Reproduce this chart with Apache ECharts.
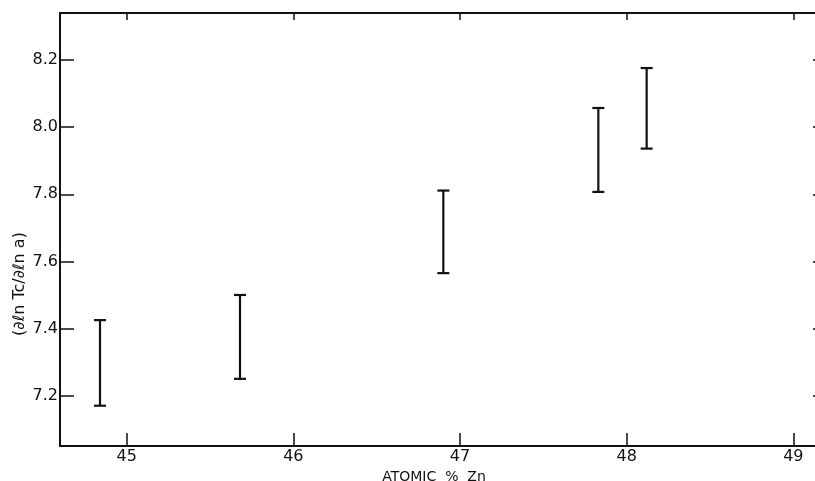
<!DOCTYPE html>
<html>
<head>
<meta charset="utf-8">
<script src="https://cdn.jsdelivr.net/npm/echarts@6/dist/echarts.min.js"></script>
<style>
html, body { margin: 0; padding: 0; background: #fff; }
#main { width: 815px; height: 481px; }
</style>
</head>
<body>
<div id="main"></div>
<script>
// 数据：原子百分比 Zn 与误差棒上下限
var zn = [44.84, 45.68, 46.90, 47.83, 48.12];
var low = [7.17, 7.25, 7.565, 7.807, 7.936];
var high = [7.425, 7.50, 7.811, 8.057, 8.176];

// 刻度
var xTicks = [45, 46, 47, 48, 49];
var yTicks = [7.2, 7.4, 7.6, 7.8, 8.0, 8.2];

var ink = '#111';
var labelFont = 'DejaVu Sans';

var points = [];
for (var i = 0; i < zn.length; i++) {
    points.push([zn[i], low[i], high[i]]);
}

// 画误差棒：竖线 + 上下横帽
function renderBar(params, api) {
    var x = api.value(0);
    var lo = api.coord([x, api.value(1)]);
    var hi = api.coord([x, api.value(2)]);
    var hw = 6;
    var st = { stroke: ink, lineWidth: 2.2 };
    return {
        type: 'group',
        children: [
            { type: 'line', shape: { x1: lo[0], y1: lo[1], x2: hi[0], y2: hi[1] }, style: st },
            { type: 'line', shape: { x1: lo[0] - hw, y1: lo[1], x2: lo[0] + hw, y2: lo[1] }, style: st },
            { type: 'line', shape: { x1: hi[0] - hw, y1: hi[1], x2: hi[0] + hw, y2: hi[1] }, style: st }
        ]
    };
}

var chart = echarts.init(document.getElementById('main'));

var option = {
    animation: false,
    backgroundColor: '#fff',
    // 右边框在画面之外，只露出刻度
    grid: { left: 60, top: 13, width: 760, height: 433, outerBoundsMode: 'none' },
    xAxis: [{
        type: 'value',
        min: 44.6,
        max: 49.16,
        position: 'bottom',
        name: 'ATOMIC  %  Zn',
        nameLocation: 'middle',
        nameGap: 17,
        nameTextStyle: { color: ink, fontFamily: labelFont, fontSize: 14, padding: [0, 0, 0, -12] },
        splitLine: { show: false },
        axisLine: { lineStyle: { color: ink, width: 2 } },
        axisTick: { inside: true, length: 13, customValues: xTicks, lineStyle: { color: ink, width: 1.5 } },
        axisLabel: { customValues: xTicks, color: ink, fontFamily: labelFont, fontSize: 16, margin: 3 }
    }, {
        type: 'value',
        min: 44.6,
        max: 49.16,
        position: 'top',
        splitLine: { show: false },
        axisLine: { lineStyle: { color: ink, width: 2 } },
        axisTick: { inside: true, length: 7, customValues: xTicks, lineStyle: { color: ink, width: 1.5 } },
        axisLabel: { show: false }
    }],
    yAxis: [{
        type: 'value',
        min: 7.05,
        max: 8.34,
        position: 'left',
        splitLine: { show: false },
        axisLine: { lineStyle: { color: ink, width: 2 } },
        axisTick: { inside: true, length: 14, customValues: yTicks, lineStyle: { color: ink, width: 1.5 } },
        axisLabel: {
            customValues: yTicks, color: ink, fontFamily: labelFont, fontSize: 16, margin: 2,
            formatter: function (v) { return v.toFixed(1); }
        }
    }, {
        type: 'value',
        min: 7.05,
        max: 8.34,
        position: 'right',
        splitLine: { show: false },
        axisLine: { lineStyle: { color: ink, width: 2 } },
        axisTick: { inside: true, length: 7, customValues: yTicks, lineStyle: { color: ink, width: 1.5 } },
        axisLabel: { show: false }
    }],
    graphic: [{
        type: 'text',
        x: 20,
        y: 284,
        rotation: Math.PI / 2,
        style: {
            text: '(∂ℓn Tc/∂ℓn a)',
            fill: ink,
            font: '16px "DejaVu Sans"',
            align: 'center',
            verticalAlign: 'middle'
        }
    }],
    series: [{
        type: 'custom',
        xAxisIndex: 0,
        yAxisIndex: 0,
        renderItem: renderBar,
        encode: { x: 0, y: [1, 2] },
        data: points
    }]
};

chart.setOption(option);
</script>
</body>
</html>
